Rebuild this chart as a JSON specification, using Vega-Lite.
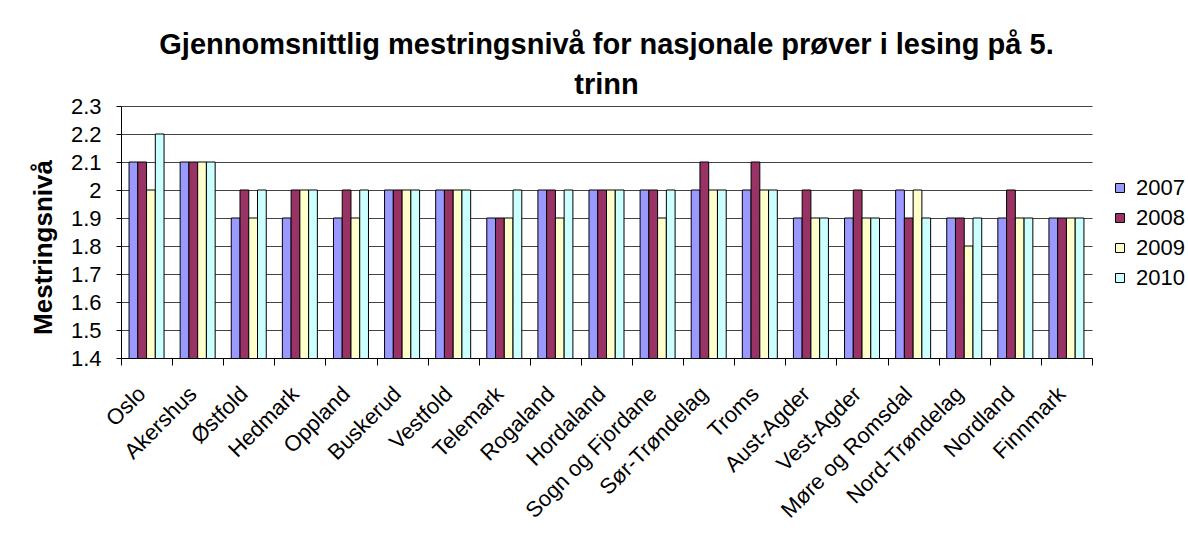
{
  "$schema": "https://vega.github.io/schema/vega-lite/v6.json",
  "width": 971,
  "height": 252,
  "autosize": {"type": "none"},
  "padding": {"left": 121, "top": 106, "right": 96, "bottom": 181},
  "background": "white",
  "config": {"font": "Liberation Sans", "view": {"stroke": null}},
  "title": {
    "text": ["Gjennomsnittlig mestringsnivå for nasjonale prøver i lesing på 5.", "trinn"],
    "fontSize": 29,
    "fontWeight": "bold",
    "font": "Liberation Sans",
    "color": "black",
    "anchor": "middle",
    "lineHeight": 40,
    "offset": -5
  },
  "data": {
    "values": [
      {"region": "Oslo", "year": "2007", "value": 2.1},
      {"region": "Oslo", "year": "2008", "value": 2.1},
      {"region": "Oslo", "year": "2009", "value": 2.0},
      {"region": "Oslo", "year": "2010", "value": 2.2},
      {"region": "Akershus", "year": "2007", "value": 2.1},
      {"region": "Akershus", "year": "2008", "value": 2.1},
      {"region": "Akershus", "year": "2009", "value": 2.1},
      {"region": "Akershus", "year": "2010", "value": 2.1},
      {"region": "Østfold", "year": "2007", "value": 1.9},
      {"region": "Østfold", "year": "2008", "value": 2.0},
      {"region": "Østfold", "year": "2009", "value": 1.9},
      {"region": "Østfold", "year": "2010", "value": 2.0},
      {"region": "Hedmark", "year": "2007", "value": 1.9},
      {"region": "Hedmark", "year": "2008", "value": 2.0},
      {"region": "Hedmark", "year": "2009", "value": 2.0},
      {"region": "Hedmark", "year": "2010", "value": 2.0},
      {"region": "Oppland", "year": "2007", "value": 1.9},
      {"region": "Oppland", "year": "2008", "value": 2.0},
      {"region": "Oppland", "year": "2009", "value": 1.9},
      {"region": "Oppland", "year": "2010", "value": 2.0},
      {"region": "Buskerud", "year": "2007", "value": 2.0},
      {"region": "Buskerud", "year": "2008", "value": 2.0},
      {"region": "Buskerud", "year": "2009", "value": 2.0},
      {"region": "Buskerud", "year": "2010", "value": 2.0},
      {"region": "Vestfold", "year": "2007", "value": 2.0},
      {"region": "Vestfold", "year": "2008", "value": 2.0},
      {"region": "Vestfold", "year": "2009", "value": 2.0},
      {"region": "Vestfold", "year": "2010", "value": 2.0},
      {"region": "Telemark", "year": "2007", "value": 1.9},
      {"region": "Telemark", "year": "2008", "value": 1.9},
      {"region": "Telemark", "year": "2009", "value": 1.9},
      {"region": "Telemark", "year": "2010", "value": 2.0},
      {"region": "Rogaland", "year": "2007", "value": 2.0},
      {"region": "Rogaland", "year": "2008", "value": 2.0},
      {"region": "Rogaland", "year": "2009", "value": 1.9},
      {"region": "Rogaland", "year": "2010", "value": 2.0},
      {"region": "Hordaland", "year": "2007", "value": 2.0},
      {"region": "Hordaland", "year": "2008", "value": 2.0},
      {"region": "Hordaland", "year": "2009", "value": 2.0},
      {"region": "Hordaland", "year": "2010", "value": 2.0},
      {"region": "Sogn og Fjordane", "year": "2007", "value": 2.0},
      {"region": "Sogn og Fjordane", "year": "2008", "value": 2.0},
      {"region": "Sogn og Fjordane", "year": "2009", "value": 1.9},
      {"region": "Sogn og Fjordane", "year": "2010", "value": 2.0},
      {"region": "Sør-Trøndelag", "year": "2007", "value": 2.0},
      {"region": "Sør-Trøndelag", "year": "2008", "value": 2.1},
      {"region": "Sør-Trøndelag", "year": "2009", "value": 2.0},
      {"region": "Sør-Trøndelag", "year": "2010", "value": 2.0},
      {"region": "Troms", "year": "2007", "value": 2.0},
      {"region": "Troms", "year": "2008", "value": 2.1},
      {"region": "Troms", "year": "2009", "value": 2.0},
      {"region": "Troms", "year": "2010", "value": 2.0},
      {"region": "Aust-Agder", "year": "2007", "value": 1.9},
      {"region": "Aust-Agder", "year": "2008", "value": 2.0},
      {"region": "Aust-Agder", "year": "2009", "value": 1.9},
      {"region": "Aust-Agder", "year": "2010", "value": 1.9},
      {"region": "Vest-Agder", "year": "2007", "value": 1.9},
      {"region": "Vest-Agder", "year": "2008", "value": 2.0},
      {"region": "Vest-Agder", "year": "2009", "value": 1.9},
      {"region": "Vest-Agder", "year": "2010", "value": 1.9},
      {"region": "Møre og Romsdal", "year": "2007", "value": 2.0},
      {"region": "Møre og Romsdal", "year": "2008", "value": 1.9},
      {"region": "Møre og Romsdal", "year": "2009", "value": 2.0},
      {"region": "Møre og Romsdal", "year": "2010", "value": 1.9},
      {"region": "Nord-Trøndelag", "year": "2007", "value": 1.9},
      {"region": "Nord-Trøndelag", "year": "2008", "value": 1.9},
      {"region": "Nord-Trøndelag", "year": "2009", "value": 1.8},
      {"region": "Nord-Trøndelag", "year": "2010", "value": 1.9},
      {"region": "Nordland", "year": "2007", "value": 1.9},
      {"region": "Nordland", "year": "2008", "value": 2.0},
      {"region": "Nordland", "year": "2009", "value": 1.9},
      {"region": "Nordland", "year": "2010", "value": 1.9},
      {"region": "Finnmark", "year": "2007", "value": 1.9},
      {"region": "Finnmark", "year": "2008", "value": 1.9},
      {"region": "Finnmark", "year": "2009", "value": 1.9},
      {"region": "Finnmark", "year": "2010", "value": 1.9}
    ]
  },
  "mark": {"type": "bar", "stroke": "black", "strokeWidth": 1, "clip": true},
  "encoding": {
    "x": {
      "field": "region",
      "type": "nominal",
      "sort": null,
      "scale": {"paddingInner": 0, "paddingOuter": 0},
      "axis": {
        "title": null,
        "labelAngle": -45,
        "labelAlign": "right",
        "labelBaseline": "middle",
        "labelFontSize": 22,
        "labelColor": "black",
        "labelPadding": 25,
        "labelOffset": -5,
        "labelLimit": 400,
        "tickBand": "extent",
        "tickSize": 7,
        "tickColor": "black",
        "domainColor": "black",
        "grid": false
      }
    },
    "xOffset": {
      "field": "year",
      "type": "nominal",
      "scale": {"paddingInner": 0, "paddingOuter": 0.92}
    },
    "y": {
      "field": "value",
      "type": "quantitative",
      "scale": {"domain": [1.4, 2.3], "zero": false, "nice": false},
      "axis": {
        "title": "Mestringsnivå",
        "titleFontSize": 26,
        "titleFontWeight": "bold",
        "titleColor": "black",
        "titlePadding": 14,
        "titleY": 141,
        "values": [1.4, 1.5, 1.6, 1.7, 1.8, 1.9, 2.0, 2.1, 2.2, 2.3],
        "format": ".1~f",
        "labelFontSize": 22,
        "labelColor": "black",
        "labelPadding": 15,
        "labelOverlap": false,
        "labelFlush": false,
        "tickSize": 5,
        "tickColor": "black",
        "domainColor": "black",
        "grid": true,
        "gridColor": "#444444",
        "gridWidth": 1
      }
    },
    "color": {
      "field": "year",
      "type": "nominal",
      "scale": {
        "domain": ["2007", "2008", "2009", "2010"],
        "range": ["#9999FF", "#993366", "#FFFFCC", "#CCFFFF"]
      },
      "legend": {
        "title": null,
        "orient": "none",
        "legendX": 988,
        "legendY": 71,
        "padding": 0,
        "symbolType": "square",
        "symbolSize": 81,
        "symbolStrokeColor": "black",
        "symbolStrokeWidth": 1,
        "symbolOpacity": 1,
        "labelFontSize": 22,
        "labelColor": "black",
        "labelOffset": 5,
        "rowPadding": 8
      }
    }
  }
}
